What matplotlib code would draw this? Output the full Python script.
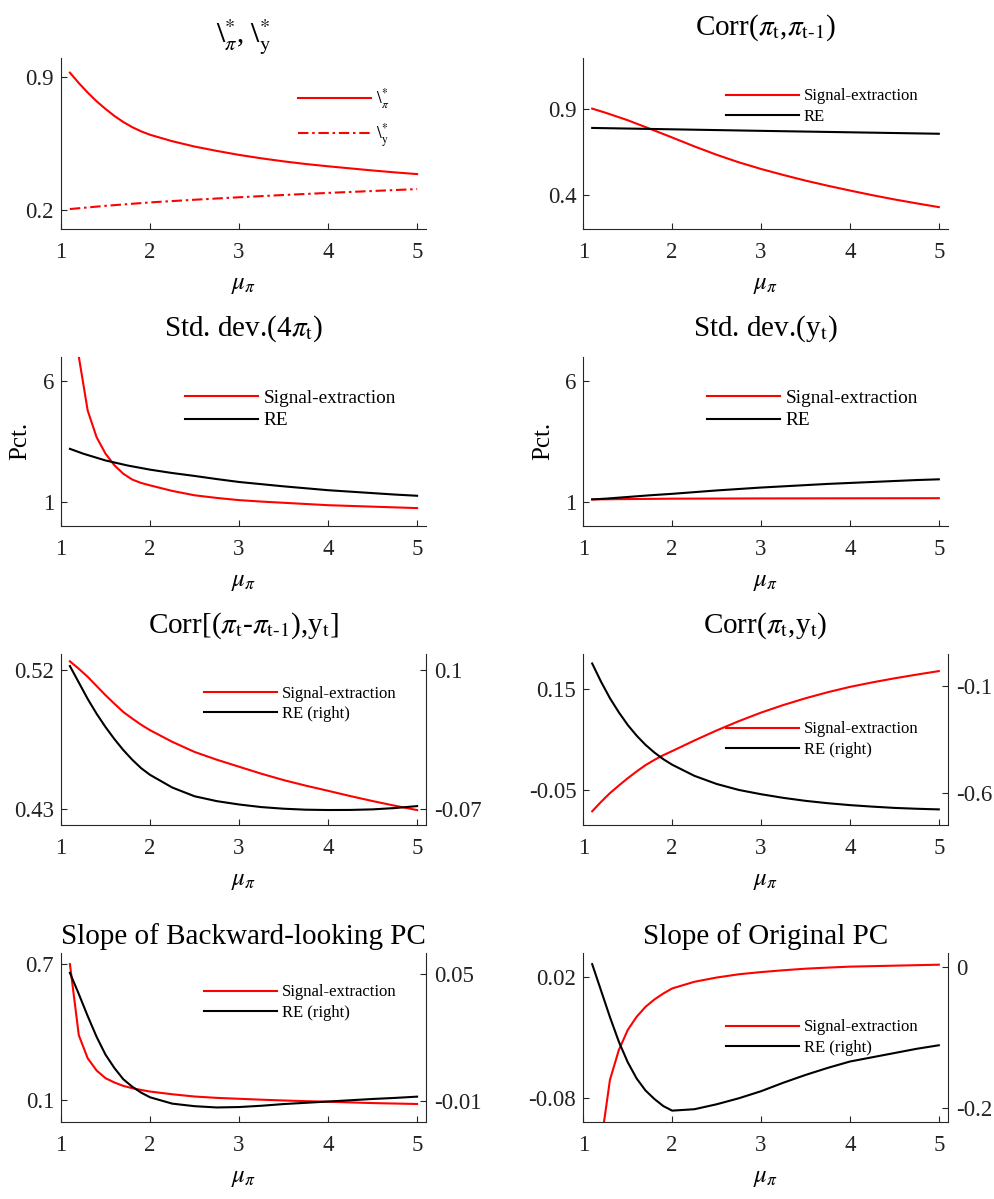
import matplotlib
matplotlib.use("Agg")
import matplotlib.pyplot as plt
from matplotlib.ticker import FormatStrFormatter

plt.rcParams['font.family'] = ['Liberation Serif', 'DejaVu Serif']
plt.rcParams['mathtext.fontset'] = 'stix'
plt.rcParams['axes.unicode_minus'] = False

# --- data (x = mu_pi) ---
# fine grid: 0.1 steps up to 2, then 0.25 steps
MU = [1.1, 1.2, 1.3, 1.4, 1.5, 1.6, 1.7, 1.8, 1.9, 2.0,
      2.25, 2.5, 2.75, 3.0, 3.25, 3.5, 3.75, 4.0, 4.25, 4.5, 4.75, 5.0]
# coarse grid
MU_Q = [1.1, 1.25, 1.5, 1.75, 2.0, 2.25, 2.5, 2.75, 3.0, 3.25, 3.5, 3.75, 4.0, 4.25, 4.5, 4.75, 5.0]

lam_pi = [0.923, 0.868, 0.818, 0.772, 0.732, 0.695, 0.663, 0.636, 0.614, 0.596,
          0.562, 0.534, 0.511, 0.49, 0.472, 0.456, 0.442, 0.43, 0.419, 0.408, 0.398, 0.389]
mu_lam_y = [1.1, 1.5, 2.0, 2.5, 3.0, 3.5, 4.0, 4.5, 5.0]
lam_y = [0.205, 0.222, 0.24, 0.254, 0.267, 0.279, 0.29, 0.30, 0.31]

ac_se = [0.904, 0.88, 0.836, 0.786, 0.735, 0.683, 0.634, 0.590, 0.551,
         0.516, 0.483, 0.453, 0.425, 0.398, 0.373, 0.350, 0.328]
mu_ac_re = [1.1, 3.0, 5.0]
ac_re = [0.791, 0.774, 0.757]

sdd_se = [11.0, 7.0, 4.77, 3.67, 2.99, 2.51, 2.16, 1.92, 1.78, 1.68,
          1.45, 1.27, 1.16, 1.07, 1.01, 0.96, 0.91, 0.86, 0.83, 0.80, 0.77, 0.74]
sdd_re = [3.19, 2.99, 2.71, 2.50, 2.33, 2.19, 2.07, 1.94, 1.82,
          1.73, 1.64, 1.56, 1.48, 1.42, 1.36, 1.30, 1.25]

mu_sdy_se = [1.1, 2.0, 3.0, 4.0, 5.0]
sdy_se = [1.10, 1.13, 1.14, 1.145, 1.15]
sdy_re = [1.10, 1.13, 1.20, 1.27, 1.33, 1.40, 1.47, 1.53, 1.59,
          1.64, 1.69, 1.74, 1.78, 1.82, 1.86, 1.90, 1.93]

cdy_se = [0.5253, 0.5205, 0.5153, 0.5094, 0.5035, 0.498, 0.4927, 0.4885, 0.4845, 0.481,
          0.4735, 0.467, 0.462, 0.4575, 0.4530, 0.4489, 0.4453, 0.442, 0.4386, 0.4354, 0.4324, 0.4296]
cdy_re = [0.1052, 0.085, 0.0648, 0.0466, 0.0303, 0.0155, 0.002, -0.0098, -0.0202, -0.0284,
          -0.0440, -0.0547, -0.0607, -0.0648, -0.0680, -0.0700, -0.0712, -0.0716, -0.0715, -0.0708, -0.0692, -0.0668]

cpy_se = [-0.0927, -0.074, -0.0566, -0.0415, -0.027, -0.0135, -0.001, 0.0095, 0.0188, 0.027,
          0.048, 0.068, 0.0865, 0.1035, 0.1185, 0.132, 0.144, 0.1546, 0.1635, 0.1716, 0.179, 0.186]
cpy_re = [0.0056, -0.080, -0.157, -0.223, -0.282, -0.332, -0.375, -0.411, -0.442, -0.468,
          -0.520, -0.558, -0.586, -0.606, -0.623, -0.637, -0.648, -0.657, -0.664, -0.670, -0.674, -0.677]

bl_se = [0.70, 0.385, 0.283, 0.229, 0.195, 0.176, 0.161, 0.151, 0.143, 0.136,
         0.124, 0.114, 0.108, 0.104, 0.100, 0.0965, 0.0935, 0.091, 0.088, 0.085, 0.083, 0.081]
bl_re = [0.0505, 0.0405, 0.0301, 0.0203, 0.0119, 0.0056, 0.0003, -0.0032, -0.0060, -0.0082,
         -0.0112, -0.0124, -0.0130, -0.0128, -0.0122, -0.0114, -0.0108, -0.0102, -0.0096, -0.0090, -0.0085, -0.0079]

op_se = [-0.25, -0.117, -0.0649, -0.0403, -0.0238, -0.0129, -0.0047, 0.0014, 0.0063, 0.0105,
         0.0160, 0.0195, 0.0222, 0.0240, 0.0255, 0.0268, 0.0277, 0.0285, 0.0289, 0.0293, 0.0297, 0.0301]
op_re = [0.0038, -0.0337, -0.0712, -0.106, -0.135, -0.158, -0.175, -0.187, -0.197, -0.2035,
         -0.2015, -0.1945, -0.186, -0.176, -0.164, -0.153, -0.143, -0.134, -0.128, -0.122, -0.116, -0.111]

SE = 'Signal-extraction'
W, H = 995, 1199
RED, BLACK, GREY = '#ff0000', '#000000', '#262626'
TICK_FS, TITLE_FS, LABEL_FS = 16.5, 21, 18

fig = plt.figure(figsize=(W / 100, H / 100), dpi=100)


def make_axes(x0, x1, y0, y1):
    ax = fig.add_axes([x0 / W, 1 - y1 / H, (x1 - x0) / W, (y1 - y0) / H])
    ax.set_xlim(1, 5.1)
    ax.set_xticks([1, 2, 3, 4, 5])
    ax.spines['top'].set_visible(False)
    ax.spines['right'].set_visible(False)
    for s in ('left', 'bottom'):
        ax.spines[s].set_color(GREY)
        ax.spines[s].set_linewidth(0.8)
    ax.tick_params(direction='in', length=4, width=0.8, colors=GREY, labelsize=TICK_FS)
    ax.tick_params(axis='x', pad=9, labelcolor='#222222')
    ax.tick_params(axis='y', pad=5, labelcolor='#222222')
    ax.yaxis.set_major_formatter(FormatStrFormatter('%g'))
    ax.set_xlabel(r'$\mu_{\pi}$', fontsize=LABEL_FS, labelpad=8)
    return ax


def make_twin(ax):
    ax2 = ax.twinx()
    for s in ('top', 'left', 'bottom'):
        ax2.spines[s].set_visible(False)
    ax2.spines['right'].set_color(GREY)
    ax2.spines['right'].set_linewidth(0.8)
    ax2.tick_params(direction='in', length=4, width=0.8, colors=GREY, labelsize=TICK_FS, pad=6,
                    labelcolor='#222222')
    ax2.yaxis.set_major_formatter(FormatStrFormatter('%g'))
    return ax2


def put_legend(ax, handles, labels, x_px, y_px, size, spacing=0.25):
    ax.legend(handles, labels, loc='center left', bbox_to_anchor=(x_px / W, 1 - y_px / H),
              bbox_transform=fig.transFigure, frameon=False, fontsize=size,
              handlelength=73 / (size * 100 / 72), handletextpad=0.3, borderpad=0,
              borderaxespad=0, labelspacing=spacing)


LX = (61, 426)
RX = (583.3, 947.7)
ROWS = [(58, 229), (356.7, 526), (654, 825), (952.7, 1122.3)]

# row 1 left: lambda*
ax = make_axes(*LX, *ROWS[0])
l1, = ax.plot(MU, lam_pi, color=RED, lw=1.5)
l2, = ax.plot(mu_lam_y, lam_y, color=RED, lw=1.5, ls=(0, (5, 1.8, 1.2, 1.8)))
ax.set_ylim(0.1, 1.0)
ax.set_yticks([0.2, 0.9])
ax.set_title(r'$\backslash^{*}_{\pi}$, $\backslash^{*}_{\mathrm{y}}$', fontsize=TITLE_FS, pad=11)
put_legend(ax, [l1, l2], [r'$\backslash^{*}_{\pi}$', r'$\backslash^{*}_{\mathrm{y}}$'], 298, 117.5, 12, 0.6)

# row 1 right: autocorrelation of inflation
ax = make_axes(*RX, *ROWS[0])
l1, = ax.plot(MU_Q, ac_se, color=RED, lw=1.5)
l2, = ax.plot(mu_ac_re, ac_re, color=BLACK, lw=1.5)
ax.set_ylim(0.2, 1.2)
ax.set_yticks([0.4, 0.9])
ax.set_title(r'Corr($\pi_{\mathrm{t}}$,$\pi_{\mathrm{t\text{-}1}}$)', fontsize=TITLE_FS, pad=17)
put_legend(ax, [l1, l2], [SE, 'RE'], 726, 106.5, 12)

# row 2 left: std dev of inflation change
ax = make_axes(*LX, *ROWS[1])
l1, = ax.plot(MU, sdd_se, color=RED, lw=1.5)
l2, = ax.plot(MU_Q, sdd_re, color=BLACK, lw=1.5)
ax.set_ylim(0, 7)
ax.set_yticks([1, 6])
ax.set_ylabel('Pct.', fontsize=LABEL_FS, labelpad=8)
ax.set_title(r'Std. dev.(4$\pi_{\mathrm{t}}$)', fontsize=TITLE_FS, pad=15)
put_legend(ax, [l1, l2], [SE, 'RE'], 185, 409.5, 13.9)

# row 2 right: std dev of output gap
ax = make_axes(*RX, *ROWS[1])
l1, = ax.plot(mu_sdy_se, sdy_se, color=RED, lw=1.5)
l2, = ax.plot(MU_Q, sdy_re, color=BLACK, lw=1.5)
ax.set_ylim(0, 7)
ax.set_yticks([1, 6])
ax.set_ylabel('Pct.', fontsize=LABEL_FS, labelpad=8)
ax.set_title(r'Std. dev.(y$_{\mathrm{t}}$)', fontsize=TITLE_FS, pad=15)
put_legend(ax, [l1, l2], [SE, 'RE'], 707, 409.5, 13.9)

# row 3 left: corr of inflation change with output gap
ax = make_axes(*LX, *ROWS[2])
ax2 = make_twin(ax)
l1, = ax.plot(MU, cdy_se, color=RED, lw=1.5)
l2, = ax2.plot(MU, cdy_re, color=BLACK, lw=1.5)
ax.set_ylim(0.42, 0.53)
ax.set_yticks([0.43, 0.52])
ax2.set_ylim(-0.09, 0.12)
ax2.set_yticks([-0.07, 0.1])
ax.set_title(r'Corr[($\pi_{\mathrm{t}}$-$\pi_{\mathrm{t\text{-}1}}$),y$_{\mathrm{t}}$]', fontsize=TITLE_FS, pad=15)
put_legend(ax2, [l1, l2], [SE, 'RE (right)'], 204, 704, 12)

# row 3 right: corr of inflation with output gap
ax = make_axes(*RX, *ROWS[2])
ax2 = make_twin(ax)
l1, = ax.plot(MU, cpy_se, color=RED, lw=1.5)
l2, = ax2.plot(MU, cpy_re, color=BLACK, lw=1.5)
ax.set_ylim(-0.12, 0.22)
ax.set_yticks([-0.05, 0.15])
ax2.set_ylim(-0.75, 0.05)
ax2.set_yticks([-0.6, -0.1])
ax.set_title(r'Corr($\pi_{\mathrm{t}}$,y$_{\mathrm{t}}$)', fontsize=TITLE_FS, pad=15)
put_legend(ax2, [l1, l2], [SE, 'RE (right)'], 726, 739.5, 12)

# row 4 left: slope of backward-looking PC
ax = make_axes(*LX, *ROWS[3])
ax2 = make_twin(ax)
l1, = ax.plot(MU, bl_se, color=RED, lw=1.5)
l2, = ax2.plot(MU, bl_re, color=BLACK, lw=1.5)
ax.set_ylim(0, 0.75)
ax.set_yticks([0.1, 0.7])
ax2.set_ylim(-0.02, 0.06)
ax2.set_yticks([-0.01, 0.05])
ax.set_title('Slope of Backward-looking PC', fontsize=TITLE_FS, pad=6)
put_legend(ax2, [l1, l2], [SE, 'RE (right)'], 204, 1002.5, 12)

# row 4 right: slope of original PC
ax = make_axes(*RX, *ROWS[3])
ax2 = make_twin(ax)
l1, = ax.plot(MU, op_se, color=RED, lw=1.5)
l2, = ax2.plot(MU, op_re, color=BLACK, lw=1.5)
ax.set_ylim(-0.1, 0.04)
ax.set_yticks([-0.08, 0.02])
ax2.set_ylim(-0.22, 0.02)
ax2.set_yticks([-0.2, 0])
ax.set_title('Slope of Original PC', fontsize=TITLE_FS, pad=6)
put_legend(ax2, [l1, l2], [SE, 'RE (right)'], 726, 1037.5, 12)

fig.savefig('out.png', dpi=100)
